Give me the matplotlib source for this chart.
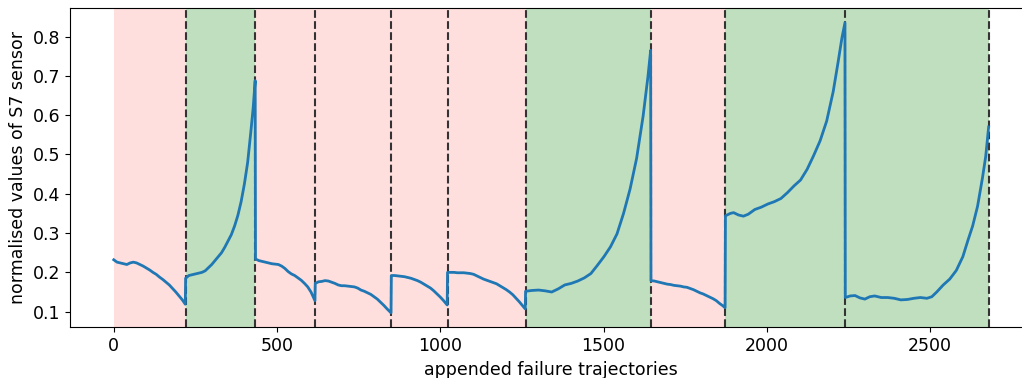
import numpy as np
import matplotlib.pyplot as plt

# segment boundaries (appended failure trajectories) and class of each one
seg_starts = [0, 220, 434, 617, 850, 1022, 1261, 1645, 1873, 2240]
seg_ends = [220, 434, 617, 850, 1022, 1261, 1645, 1873, 2240, 2680]
seg_green = [False, True, False, False, False, False, True, False, True, True]

# values: (offset inside segment, sensor value)
seg1_off = [0, 10, 20, 30, 40, 50, 60, 70, 80, 90, 100, 110, 120, 130, 140, 150, 160, 170, 180, 190, 200, 210, 219]
seg1_val = [0.232, 0.226, 0.224, 0.222, 0.220, 0.224, 0.226, 0.224, 0.220, 0.216, 0.211, 0.206, 0.200, 0.195,
            0.188, 0.182, 0.175, 0.168, 0.159, 0.150, 0.140, 0.130, 0.119]
seg2_off = [0, 10, 20, 30, 40, 50, 60, 70, 80, 90, 100, 110, 120, 130, 140, 150, 160, 170, 180, 190, 200, 207, 213]
seg2_val = [0.185, 0.192, 0.194, 0.196, 0.198, 0.200, 0.204, 0.212, 0.220, 0.230, 0.240, 0.250, 0.264, 0.280,
            0.296, 0.318, 0.345, 0.380, 0.425, 0.480, 0.560, 0.620, 0.688]
seg3_off = [0, 10, 20, 30, 40, 50, 60, 70, 80, 90, 100, 110, 120, 130, 140, 150, 160, 170, 182]
seg3_val = [0.234, 0.230, 0.228, 0.226, 0.224, 0.222, 0.221, 0.220, 0.216, 0.210, 0.202, 0.196, 0.192, 0.186,
            0.180, 0.172, 0.163, 0.150, 0.128]
seg4_off = [0, 10, 20, 30, 40, 50, 60, 70, 80, 90, 100, 110, 120, 130, 140, 150, 160, 170, 180, 190, 200, 210, 220, 232]
seg4_val = [0.172, 0.176, 0.177, 0.179, 0.178, 0.175, 0.172, 0.168, 0.166, 0.166, 0.165, 0.164, 0.163, 0.160,
            0.155, 0.152, 0.148, 0.144, 0.138, 0.132, 0.124, 0.116, 0.107, 0.097]
seg5_off = [0, 10, 20, 30, 40, 50, 60, 70, 80, 90, 100, 110, 120, 130, 140, 150, 160, 171]
seg5_val = [0.192, 0.192, 0.191, 0.190, 0.189, 0.187, 0.185, 0.182, 0.179, 0.175, 0.170, 0.165, 0.160, 0.153,
            0.145, 0.137, 0.128, 0.117]
seg6_off = [0, 10, 20, 30, 40, 50, 60, 70, 80, 90, 100, 110, 120, 130, 140, 150, 160, 170, 180, 190, 200, 210,
            220, 230, 238]
seg6_val = [0.200, 0.200, 0.200, 0.199, 0.199, 0.199, 0.198, 0.197, 0.195, 0.191, 0.187, 0.183, 0.180, 0.177,
            0.174, 0.171, 0.166, 0.161, 0.156, 0.150, 0.143, 0.134, 0.125, 0.115, 0.107]
seg7_off = [0, 20, 40, 60, 80, 100, 120, 140, 160, 180, 200, 220, 240, 260, 280, 300, 320, 340, 360, 375, 383]
seg7_val = [0.152, 0.154, 0.155, 0.153, 0.150, 0.158, 0.168, 0.172, 0.178, 0.186, 0.197, 0.218, 0.240, 0.265,
            0.298, 0.350, 0.412, 0.490, 0.598, 0.700, 0.765]
seg8_off = [0, 10, 20, 30, 40, 50, 60, 70, 80, 90, 100, 110, 120, 130, 140, 150, 160, 170, 180, 190, 200, 210, 220, 227]
seg8_val = [0.179, 0.178, 0.176, 0.174, 0.172, 0.170, 0.169, 0.167, 0.166, 0.165, 0.163, 0.162, 0.159, 0.156,
            0.152, 0.148, 0.145, 0.141, 0.137, 0.133, 0.128, 0.121, 0.115, 0.110]
seg9_off = [0, 15, 25, 40, 55, 70, 90, 110, 130, 150, 170, 190, 210, 230, 250, 270, 290, 310, 330, 345, 357, 366]
seg9_val = [0.344, 0.350, 0.352, 0.346, 0.343, 0.348, 0.360, 0.366, 0.374, 0.380, 0.388, 0.403, 0.420, 0.435,
            0.462, 0.497, 0.535, 0.585, 0.660, 0.735, 0.798, 0.835]
seg10_off = [0, 15, 30, 45, 60, 75, 90, 110, 130, 150, 170, 190, 210, 230, 250, 265, 280, 300, 320, 340, 360,
             375, 390, 405, 420, 430, 439]
seg10_val = [0.136, 0.140, 0.141, 0.135, 0.132, 0.138, 0.140, 0.136, 0.136, 0.134, 0.130, 0.131, 0.134, 0.136,
             0.134, 0.138, 0.150, 0.168, 0.183, 0.205, 0.240, 0.280, 0.318, 0.368, 0.440, 0.495, 0.570]

offsets = [seg1_off, seg2_off, seg3_off, seg4_off, seg5_off, seg6_off, seg7_off, seg8_off, seg9_off, seg10_off]
values = [seg1_val, seg2_val, seg3_val, seg4_val, seg5_val, seg6_val, seg7_val, seg8_val, seg9_val, seg10_val]

x = np.concatenate([np.array(o) + s for o, s in zip(offsets, seg_starts)])
y = np.concatenate([np.array(v) for v in values])

fig = plt.figure(figsize=(10.22, 3.78), dpi=100)
ax = fig.add_axes([0.0685, 0.134, 0.942, 0.844])

for s, e, g in zip(seg_starts, seg_ends, seg_green):
    if g:
        ax.axvspan(s, e, color='green', alpha=0.25, lw=0)
    else:
        ax.axvspan(s, e, color='red', alpha=0.13, lw=0)
    ax.axvline(e, color='#333333', ls='--', lw=1.5)

ax.plot(x, y, color='#1f77b4', lw=2)

ax.set_xlabel('appended failure trajectories', fontsize=12.5)
ax.set_ylabel('normalised values of S7 sensor', fontsize=12.5)
ax.tick_params(labelsize=12.5)
ax.set_xticks([0, 500, 1000, 1500, 2000, 2500])

fig.savefig('out.png', dpi=100)
